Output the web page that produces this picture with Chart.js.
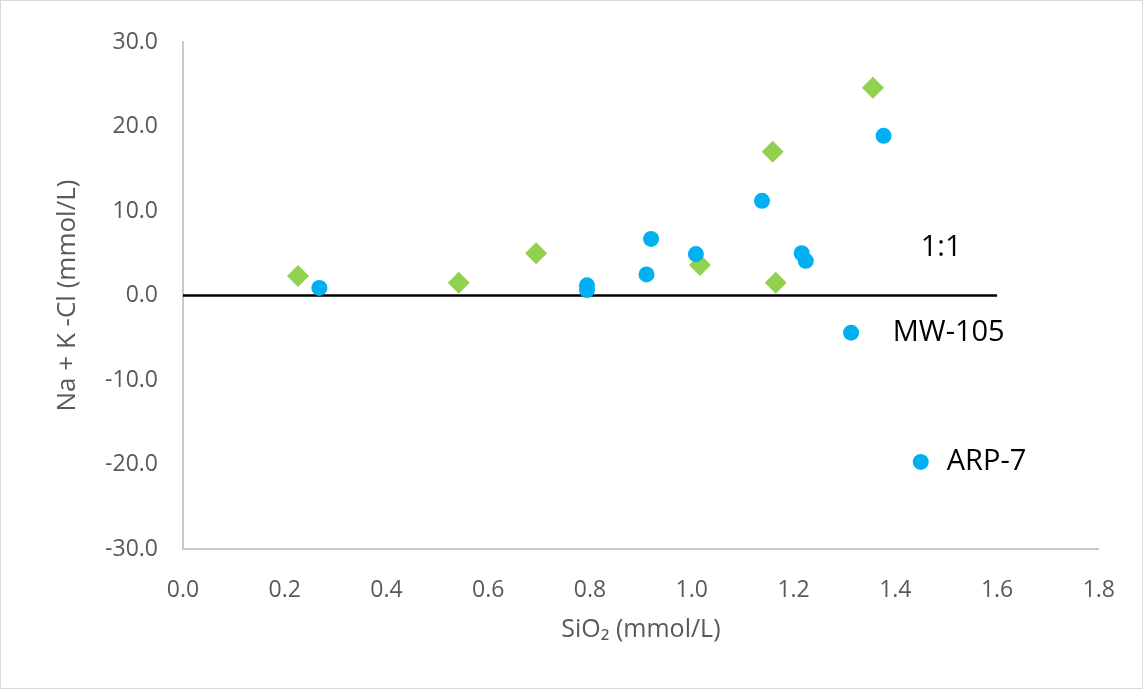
<!DOCTYPE html>
<html>
<head>
<meta charset="utf-8">
<script src="https://cdn.jsdelivr.net/npm/chart.js@4.4.0/dist/chart.umd.min.js"></script>
<style>
  html, body { margin: 0; padding: 0; background: #fff; }
  #wrap { width: 1143px; height: 689px; position: relative; }
</style>
</head>
<body>
<div id="wrap"><canvas id="sio2-chart"></canvas></div>
<script>
// Green diamonds
const greenX = [0.226, 0.542, 0.694, 1.016, 1.159, 1.165, 1.356];
const greenY = [2.3, 1.5, 5.0, 3.6, 17.0, 1.5, 24.6];

// Blue circles
const blueX = [0.268, 0.794, 0.794, 0.911, 0.92, 1.008, 1.138, 1.216, 1.224, 1.377, 1.313, 1.450];
const blueY = [0.9, 1.2, 0.65, 2.5, 6.7, 4.9, 11.2, 5.0, 4.1, 18.9, -4.4, -19.7];

// 1:1 reference line (flat at zero)
const refX = [0, 1.6];
const refY = [0, 0];

// Text annotations
const noteText = ['1:1', 'MW-105', 'ARP-7'];
const noteX = [1.49, 1.395, 1.501];
const noteY = [5.6, -4.4, -19.7];

const xTicks = [0, 0.2, 0.4, 0.6, 0.8, 1.0, 1.2, 1.4, 1.6, 1.8];
const yTicks = [-30, -20, -10, 0, 10, 20, 30];

const FONT = '"Open Sans", "Noto Sans", sans-serif';

function toPoints(xs, ys) {
  return xs.map((x, i) => ({ x: x, y: ys[i] }));
}

// white background + thin frame
const framePlugin = {
  id: 'frame',
  beforeDraw(chart) {
    const c = chart.ctx;
    c.save();
    c.fillStyle = '#ffffff';
    c.fillRect(0, 0, chart.width, chart.height);
    c.strokeStyle = '#d9d9d9';
    c.lineWidth = 1;
    c.strokeRect(0.5, 0.5, chart.width - 1, chart.height - 1);
    c.restore();
  }
};

// point labels
const notesPlugin = {
  id: 'notes',
  afterDatasetsDraw(chart) {
    const c = chart.ctx;
    const xs = chart.scales.x, ys = chart.scales.y;
    c.save();
    c.fillStyle = '#000000';
    c.font = '29px ' + FONT;
    c.textBaseline = 'middle';
    noteText.forEach((t, i) => {
      c.textAlign = i === 0 ? 'center' : 'left';
      c.fillText(t, xs.getPixelForValue(noteX[i]), ys.getPixelForValue(noteY[i]));
    });
    c.restore();
  }
};

new Chart(document.getElementById('sio2-chart'), {
  type: 'scatter',
  data: {
    datasets: [
      {
        label: '1:1',
        data: toPoints(refX, refY),
        showLine: true,
        borderColor: '#000000',
        borderWidth: 2.5,
        pointRadius: 0,
        order: 3
      },
      {
        label: 'Series 1',
        data: toPoints(greenX, greenY),
        pointStyle: 'rectRot',
        pointRadius: 11,
        backgroundColor: '#92D050',
        borderColor: '#92D050',
        borderWidth: 0,
        order: 2
      },
      {
        label: 'Series 2',
        data: toPoints(blueX, blueY),
        pointStyle: 'circle',
        pointRadius: 8,
        backgroundColor: '#00B0F0',
        borderColor: '#00B0F0',
        borderWidth: 0,
        order: 1
      }
    ]
  },
  options: {
    responsive: true,
    maintainAspectRatio: false,
    animation: false,
    layout: { padding: { left: 0, top: 42, right: 44, bottom: 0 } },
    plugins: {
      legend: { display: false },
      tooltip: { enabled: false }
    },
    scales: {
      x: {
        type: 'linear',
        min: 0,
        max: 1.8,
        afterFit(scale) { scale.height = 140; },
        afterBuildTicks(scale) { scale.ticks = xTicks.map(v => ({ value: v })); },
        grid: { display: false, drawTicks: false },
        border: { display: true, color: '#c8c8c8', width: 2 },
        ticks: {
          padding: 28,
          color: '#595959',
          font: { family: FONT, size: 23 },
          callback: v => v.toFixed(1)
        },
        title: {
          display: true,
          text: 'SiO\u2082 (mmol/L)',
          color: '#595959',
          font: { family: FONT, size: 25 },
          padding: { top: 44, bottom: 44 }
        }
      },
      y: {
        type: 'linear',
        min: -30,
        max: 30,
        afterFit(scale) { scale.width = 183; },
        afterBuildTicks(scale) { scale.ticks = yTicks.map(v => ({ value: v })); },
        grid: { display: false, drawTicks: false },
        border: { display: true, color: '#c8c8c8', width: 2 },
        ticks: {
          padding: 25,
          color: '#595959',
          font: { family: FONT, size: 23 },
          callback: v => v.toFixed(1)
        },
        title: {
          display: true,
          text: 'Na + K -Cl (mmol/L)',
          color: '#595959',
          font: { family: FONT, size: 26 },
          padding: { top: 52, bottom: 52 }
        }
      }
    }
  },
  plugins: [framePlugin, notesPlugin]
});
</script>
</body>
</html>
